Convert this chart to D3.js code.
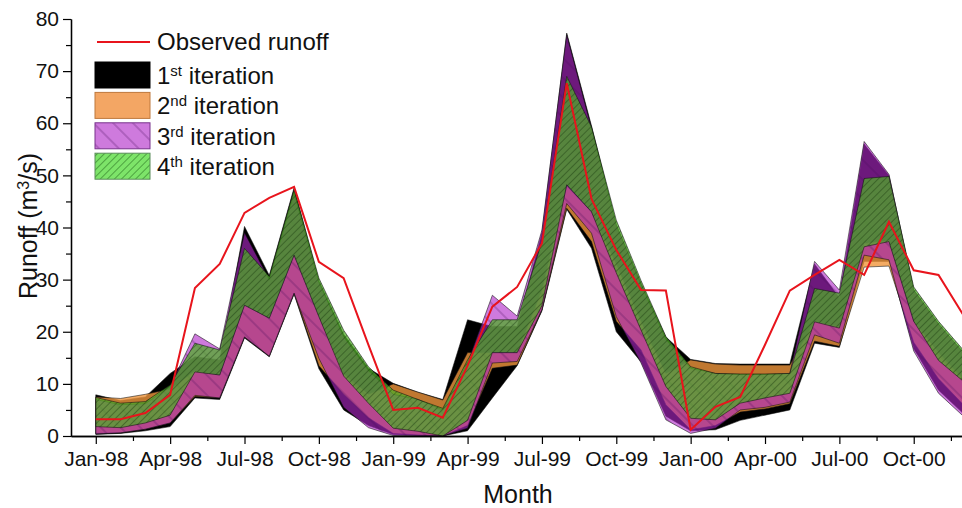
<!DOCTYPE html>
<html>
<head>
<meta charset="utf-8">
<script src="https://cdn.jsdelivr.net/npm/d3@7"></script>
<style>
  body { margin: 0; background: #fff; }
  svg { display: block; font-family: 'Liberation Sans', Arial, sans-serif; }
</style>
</head>
<body>
<svg class="runoffChart" width="962" height="508"></svg>
<script>
(function () {
  'use strict';

  // months Jan-98 .. Dec-00 (index 0..35)
  var tickMonths = [0, 3, 6, 9, 12, 15, 18, 21, 24, 27, 30, 33];
  var tickLabels = ['Jan-98', 'Apr-98', 'Jul-98', 'Oct-98', 'Jan-99', 'Apr-99',
    'Jul-99', 'Oct-99', 'Jan-00', 'Apr-00', 'Jul-00', 'Oct-00'];
  var yTicks = [0, 10, 20, 30, 40, 50, 60, 70, 80];

  var observed = [3.2, 3.2, 4.4, 7.9, 28.4, 33.0, 42.8, 45.7, 47.8, 33.4, 30.3, 17.5,
    5.0, 5.4, 3.5, 13.5, 24.8, 28.6, 37.0, 67.7, 45.5, 35.7, 28.0, 27.9,
    1.2, 5.6, 7.5, 17.5, 27.9, 30.9, 33.8, 30.9, 41.1, 31.8, 30.9, 23.2];

  // 1st iteration (black)
  var iter1Low = [0.3, 0.5, 1.0, 1.8, 7.3, 7.0, 18.8, 15.2, 27.2, 12.9, 5.0, 2.0,
    0.3, 0.1, 0.0, 1.0, 7.3, 13.5, 24.0, 43.5, 36.0, 20.0, 14.2, 3.8,
    1.0, 1.2, 3.0, 4.0, 5.0, 17.8, 17.0, 33.5, 33.5, 16.8, 8.8, 4.3];
  var iter1High = [7.9, 6.8, 7.5, 12.0, 15.2, 14.6, 40.2, 30.8, 47.6, 29.8, 19.5, 13.0,
    10.1, 8.4, 7.0, 22.3, 21.0, 21.0, 39.0, 77.3, 59.5, 40.5, 29.3, 19.0,
    14.7, 13.9, 13.8, 13.8, 13.8, 33.0, 26.5, 56.0, 50.0, 28.0, 21.5, 16.0];

  // 2nd iteration (orange)
  var iter2Low = [0.5, 0.6, 1.3, 2.5, 7.6, 7.3, 19.0, 15.3, 27.4, 13.5, 8.0, 3.5,
    0.5, 0.2, 0.0, 2.0, 13.0, 13.6, 24.2, 43.7, 37.3, 22.0, 16.5, 6.0,
    1.2, 2.0, 4.6, 5.2, 6.2, 18.2, 17.2, 32.4, 32.6, 18.0, 11.0, 6.0];
  var iter2High = [7.5, 7.2, 8.0, 9.0, 12.5, 11.7, 25.1, 22.6, 34.7, 23.0, 12.0, 8.0,
    10.0, 8.4, 6.9, 16.0, 16.0, 16.0, 28.0, 48.0, 43.0, 33.0, 22.0, 12.0,
    14.6, 13.8, 13.6, 13.6, 13.6, 22.0, 21.0, 37.0, 37.5, 22.0, 16.0, 11.0];

  // 3rd iteration (purple)
  var iter3Low = [0.4, 0.6, 1.3, 2.5, 7.8, 7.3, 19.0, 15.3, 27.4, 14.9, 5.5, 1.6,
    0.1, 0.0, 0.0, 1.5, 14.0, 14.3, 24.2, 44.6, 38.9, 22.9, 14.0, 3.1,
    0.5, 1.5, 5.0, 5.5, 6.5, 19.4, 17.8, 34.7, 33.8, 16.3, 8.2, 3.8];
  var iter3High = [7.0, 6.0, 6.2, 9.5, 19.6, 16.7, 39.0, 30.0, 46.5, 29.5, 19.0, 12.5,
    8.0, 7.0, 5.0, 14.0, 27.0, 23.0, 39.5, 77.0, 59.0, 40.5, 29.0, 18.5,
    13.0, 12.0, 11.8, 11.8, 12.0, 33.5, 28.0, 56.5, 50.2, 28.0, 21.5, 16.0];

  // 4th iteration (green)
  var iter4Low = [1.8, 1.6, 2.5, 4.0, 12.3, 11.7, 25.1, 22.6, 34.7, 22.9, 11.5, 6.3,
    1.5, 0.9, 0.0, 3.0, 16.0, 16.0, 25.0, 48.2, 43.0, 31.3, 20.3, 9.5,
    3.4, 3.1, 6.3, 7.3, 8.2, 21.9, 20.7, 36.3, 37.3, 22.0, 14.5, 10.5];
  var iter4High = [7.4, 6.3, 6.6, 9.8, 17.8, 16.5, 36.0, 30.6, 47.3, 30.3, 20.3, 13.3,
    8.8, 7.0, 5.3, 14.6, 22.3, 22.3, 37.3, 69.0, 59.3, 41.4, 29.8, 19.1,
    13.3, 12.0, 11.9, 11.9, 12.0, 28.3, 27.4, 49.4, 49.8, 28.6, 22.0, 16.5];

  function draw () {
    var svg = d3.select('.runoffChart');
    var left = 71;
    var right = 962;
    var top = 19;
    var bottom = 436;

    var x = d3.scaleLinear().domain([-1, 35]).range([left, 963.3]);
    var y = d3.scaleLinear().domain([0, 80]).range([bottom, top]);

    var defs = svg.append('defs');
    defs.append('clipPath').attr('id', 'plotClip')
      .append('rect')
      .attr('x', left).attr('y', 0)
      .attr('width', right - left).attr('height', bottom);

    function hatch (id, color, alpha, lineColor, gap, angle) {
      var p = defs.append('pattern')
        .attr('id', id)
        .attr('patternUnits', 'userSpaceOnUse')
        .attr('width', gap).attr('height', gap)
        .attr('patternTransform', 'rotate(' + angle + ')');
      p.append('rect')
        .attr('width', gap).attr('height', gap)
        .attr('fill', color).attr('fill-opacity', alpha);
      p.append('line')
        .attr('x1', gap / 2).attr('y1', 0).attr('x2', gap / 2).attr('y2', gap)
        .attr('stroke', lineColor).attr('stroke-width', 0.8);
    }
    hatch('hatchPurple', 'rgb(175,40,200)', 0.62, 'rgba(70,10,90,0.6)', 14, -45);
    hatch('hatchGreen', 'rgb(80,172,40)', 0.74, 'rgba(20,50,10,0.5)', 5, 45);
    hatch('hatchGreenKey', 'rgb(125,228,105)', 1, 'rgba(40,110,30,0.7)', 5, 45);

    var bands = [
      { low: iter1Low, high: iter1High, fill: '#000', opacity: 1 },
      { low: iter2Low, high: iter2High, fill: 'rgb(240,150,60)', opacity: 0.8 },
      { low: iter3Low, high: iter3High, fill: 'url(#hatchPurple)', opacity: 1 },
      { low: iter4Low, high: iter4High, fill: 'url(#hatchGreen)', opacity: 1 }
    ];

    var area = d3.area()
      .x(function (d, i) { return x(i); })
      .y0(function (d) { return y(d[0]); })
      .y1(function (d) { return y(d[1]); });

    var plot = svg.append('g').attr('clip-path', 'url(#plotClip)');

    bands.forEach(function (b) {
      plot.append('path')
        .datum(d3.zip(b.low, b.high))
        .attr('d', area)
        .attr('fill', b.fill)
        .attr('fill-opacity', b.opacity)
        .attr('stroke', '#111')
        .attr('stroke-opacity', 0.8)
        .attr('stroke-width', 0.7)
        .attr('stroke-linejoin', 'round');
    });

    var line = d3.line()
      .x(function (d, i) { return x(i); })
      .y(function (d) { return y(d); });

    plot.append('path')
      .datum(observed)
      .attr('d', line)
      .attr('fill', 'none')
      .attr('stroke', '#e8141c')
      .attr('stroke-width', 2);

    // axes
    svg.append('g')
      .attr('transform', 'translate(0,' + bottom + ')')
      .call(d3.axisBottom(x)
        .tickValues(tickMonths)
        .tickFormat(function (d, i) { return tickLabels[i]; })
        .tickSize(8)
        .tickSizeOuter(0)
        .tickPadding(7));
    svg.append('g')
      .attr('transform', 'translate(0,' + bottom + ')')
      .call(d3.axisBottom(x)
        .tickValues(tickMonths.map(function (d) { return d + 1.5; }))
        .tickFormat('')
        .tickSize(5)
        .tickSizeOuter(0));

    svg.append('g')
      .attr('transform', 'translate(' + left + ',0)')
      .call(d3.axisLeft(y)
        .tickValues(yTicks)
        .tickSize(8)
        .tickSizeOuter(0)
        .tickPadding(4));
    svg.append('g')
      .attr('transform', 'translate(' + left + ',0)')
      .call(d3.axisLeft(y)
        .tickValues(yTicks.slice(0, -1).map(function (d) { return d + 5; }))
        .tickFormat('')
        .tickSize(5)
        .tickSizeOuter(0));

    svg.selectAll('.domain').attr('stroke', '#000').attr('stroke-width', 1.3);
    svg.selectAll('.tick line').attr('stroke', '#000').attr('stroke-width', 1.2);
    svg.selectAll('.tick text')
      .attr('font-family', "'Liberation Sans', Arial, sans-serif")
      .attr('font-size', 21)
      .attr('fill', '#111');

    // axis titles
    svg.append('text')
      .attr('x', 518).attr('y', 503)
      .attr('text-anchor', 'middle')
      .attr('font-size', 25)
      .attr('fill', '#111')
      .text('Month');

    var yTitle = svg.append('text')
      .attr('transform', 'translate(37,226) rotate(-90)')
      .attr('text-anchor', 'middle')
      .attr('font-size', 25)
      .attr('fill', '#111');
    yTitle.append('tspan').text('Runoff (m');
    yTitle.append('tspan').attr('baseline-shift', 'super').attr('font-size', 16).text('3');
    yTitle.append('tspan').text('/s)');

    // legend
    var legend = svg.append('g');
    legend.append('line')
      .attr('x1', 97).attr('x2', 150).attr('y1', 42).attr('y2', 42)
      .attr('stroke', '#e8141c').attr('stroke-width', 2);
    legend.append('text')
      .attr('x', 157).attr('y', 50)
      .attr('font-size', 24).attr('fill', '#111')
      .text('Observed runoff');

    var legendRows = [
      { num: '1', sup: 'st', fill: '#000', stroke: '#000' },
      { num: '2', sup: 'nd', fill: 'rgb(243,166,100)', stroke: 'rgb(190,120,60)' },
      { num: '3', sup: 'rd', fill: 'url(#hatchPurple)', stroke: 'rgb(120,50,140)' },
      { num: '4', sup: 'th', fill: 'url(#hatchGreenKey)', stroke: 'rgb(90,140,90)' }
    ];
    legendRows.forEach(function (r, i) {
      var yy = 62 + i * 30.4;
      legend.append('rect')
        .attr('x', 95).attr('y', yy)
        .attr('width', 55).attr('height', 26)
        .attr('fill', r.fill)
        .attr('stroke', r.stroke).attr('stroke-width', 1);
      var t = legend.append('text')
        .attr('x', 157).attr('y', yy + 22)
        .attr('font-size', 24).attr('fill', '#111');
      t.append('tspan').text(r.num);
      t.append('tspan').attr('baseline-shift', 'super').attr('font-size', 15).text(r.sup);
      t.append('tspan').text(' iteration');
    });
  }

  draw();
}());
</script>
</body>
</html>
